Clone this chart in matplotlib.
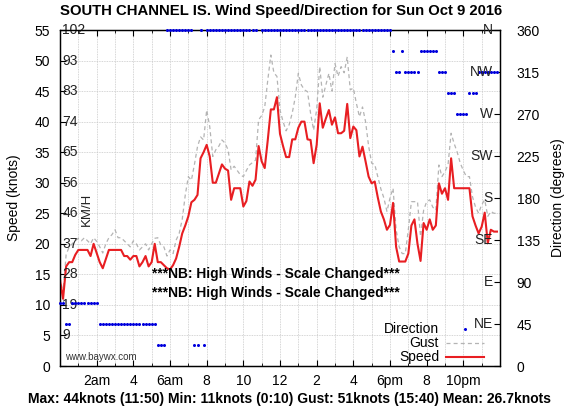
import numpy as np
import matplotlib
matplotlib.use("Agg")
import matplotlib.pyplot as plt
from matplotlib.ticker import MultipleLocator

plt.rcParams['font.family'] = ['Liberation Sans', 'DejaVu Sans']

# ---------------- data (10-minute samples from 0:00) ----------------
speed = [14, 11, 16.3, 17, 17, 18.2, 19, 19, 19, 19, 18, 20, 18.5, 17, 16, 17.5,
         19, 19, 19, 19, 19, 18, 18, 17.4, 18, 18, 16.3, 17, 18, 16.3, 17, 20,
         17, 17, 16.5, 16, 15.8, 16.5, 17.6, 19.5, 21.7, 23, 24.5, 26.8, 27.2, 28,
         34, 35, 36.2, 34.3, 30, 30, 31.5, 33, 32.3, 32, 27.2, 29.1, 29.1, 29.1,
         26.1, 27, 30.2, 29.5, 30.5, 36, 33.5, 32.4, 37, 42, 42, 44, 38, 36, 34.2,
         34.2, 37.1, 37.1, 39, 40, 40, 37.1, 37, 33.2, 36.2, 43, 39, 40.5, 41.9,
         39.5, 40.7, 38.1, 38.1, 38.5, 42.9, 37.3, 39.2, 38.6, 34.3, 35.9, 33.5,
         31, 29.9, 30.2, 27.6, 25.3, 24, 22.3, 23.1, 26.7, 19.5, 17.1, 17.1, 17.1,
         18.4, 23, 24, 20, 17.2, 23.4, 22.3, 24, 22.3, 23, 29.9, 28.2, 29.1, 27.2,
         34, 29.1, 29.1, 29.1, 29.1, 29.1, 29.1, 24.5, 23, 21.7, 22.8, 25.1, 20.1,
         22.3, 22, 22]

gust = [14.5, 12, 18.2, 19.5, 20, 20.5, 20.9, 20.5, 21, 20.5, 20, 21, 20.4, 19.5,
        18.5, 20, 21, 21.5, 22.3, 21, 21, 20.5, 20, 19.5, 20.5, 20, 19, 19.5, 20,
        19, 20, 20.9, 21, 19.8, 19.5, 18, 19, 18.4, 20.6, 21.7, 24, 28, 31, 30.4,
        33, 35.9, 37.5, 37, 41.9, 39.2, 34.3, 35.4, 36, 37, 36.5, 35.4, 32.1, 32.7,
        32, 31.3, 31, 32, 32.9, 33.3, 33.7, 40.3, 41, 42.4, 46.8, 50.9, 48, 47.4,
        41.9, 40, 38.5, 39.5, 41.4, 44, 47.9, 46, 45.2, 44.9, 41.4, 38.6, 42, 49,
        44, 46, 47.9, 45, 49.5, 47.4, 49, 48, 50.6, 45.2, 45.5, 43, 40.8, 42.4, 40,
        36, 33.2, 33, 31, 29, 27.5, 25.3, 27.5, 29.1, 22.3, 19.5, 18.4, 18.4, 22.3,
        26.9, 26.9, 26.9, 21.2, 25.5, 26.9, 27.2, 26, 25.5, 32.9, 31, 31.8, 33,
        38.1, 36.4, 35, 33.2, 32, 31, 31, 27.7, 26, 25, 26.4, 27.2, 24.5, 25.3, 25,
        25]

direction = ([67.5, 67.5, 45, 45] + [67.5] * 9 + [45] * 19 + [22.5] * 3 +
             [360] * 9 + [22.5, 22.5, 360, 22.5] + [360] * 17 + [np.nan] +
             [360] * 43 + [337.5, 315, 315, 337.5] + [315] * 5 + [337.5] * 6 +
             [315] * 3 + [292.5] * 3 + [270] * 4 + [292.5] * 3 + [315] * 7)

hours = np.arange(len(speed)) / 6.0

xtick_pos = [2, 4, 6, 8, 10, 12, 14, 16, 18, 20, 22]
xtick_labels = ['2am', '4', '6am', '8', '10', '12', '2', '4', '6pm', '8', '10pm']
speed_ticks = [0, 5, 10, 15, 20, 25, 30, 35, 40, 45, 50, 55]
kmh_ticks = [5, 10, 15, 20, 25, 30, 35, 40, 45, 50, 55]
kmh_labels = ['9', '19', '28', '37', '46', '56', '65', '74', '83', '93', '102']
dir_ticks = [0, 45, 90, 135, 180, 225, 270, 315, 360]
compass_pos = [45, 90, 135, 180, 225, 270, 315, 360]
compass_labels = ['NE', 'E', 'SE', 'S', 'SW', 'W', 'NW', 'N']

title = 'SOUTH CHANNEL IS. Wind Speed/Direction for Sun Oct 9 2016'
footer = 'Max: 44knots (11:50) Min: 11knots (0:10) Gust: 51knots (15:40) Mean: 26.7knots'
note = '***NB: High Winds - Scale Changed***'

# ---------------- figure ----------------
fig = plt.figure(figsize=(5.81, 4.18), dpi=100)
ax = fig.add_axes([60 / 581, 1 - 366 / 418, 440 / 581, 336 / 418])
ax2 = ax.twinx()

# grid
for y in speed_ticks[1:-1]:
    ax.axhline(y, color='#c8c8c8', lw=0.6, ls=(0, (1, 1)), zorder=0)
for h in range(1, 24):
    ax.axvline(h, color='#c8c8c8', lw=0.6, ls=(0, (1, 1)), zorder=0)

lg, = ax.plot(hours, gust, color='#b4b4b4', lw=0.9, ls=(0, (3.2, 2.5)), label='Gust', zorder=2)
ls_, = ax.plot(hours, speed, color='#e81e22', lw=1.5, label='Speed', zorder=3)
ld, = ax2.plot(hours, direction, ls='none', marker='o', ms=2.2, mew=0,
               color='#0000dd', label='Direction', clip_on=False, zorder=4)

ax.set_xlim(0, 24)
ax2.set_xlim(0, 24)
ax.set_ylim(0, 55)
ax2.set_ylim(0, 360)

# axes ticks
ax.set_xticks(xtick_pos)
ax.set_xticklabels(xtick_labels)
ax.xaxis.set_minor_locator(MultipleLocator(1))
ax.set_yticks(speed_ticks)
ax.tick_params(axis='both', which='major', direction='in', length=4, width=0.8,
               labelsize=10, top=True, right=False)
ax.tick_params(axis='x', which='minor', direction='in', length=2.5, width=0.6, top=True)
ax.tick_params(axis='x', pad=6)
ax.tick_params(axis='y', pad=7)
ax2.set_yticks(dir_ticks)
ax2.tick_params(axis='y', direction='in', length=4, width=0.8, labelsize=10, pad=12)

ax.set_ylabel('Speed (knots)', fontsize=10, labelpad=10)
ax2.set_ylabel('Direction (degrees)', fontsize=10, labelpad=8)

for sp in ax.spines.values():
    sp.set_linewidth(0.9)
for sp in ax2.spines.values():
    sp.set_linewidth(0.9)

# KM/H inner labels
for v, lab in zip(kmh_ticks, kmh_labels):
    ax.text(0.12, v, lab, fontsize=10, ha='left', va='center', color='#222222', zorder=5)
ax.text(1.47, 25.6, 'KM/H', fontsize=9.5, rotation=90, ha='center', va='center', color='#222222')

# compass labels inside right
for v, lab in zip(compass_pos, compass_labels):
    ax2.text(23.6, v, lab, fontsize=10, ha='right', va='center', color='#222222', zorder=5)

# notes
ax.text(5.0, 15.05, note, fontsize=9.9, fontweight='bold', ha='left', va='center')
ax.text(5.0, 12.0, note, fontsize=9.9, fontweight='bold', ha='left', va='center')
ax.text(0.25, 1.5, 'www.baywx.com', fontsize=7, ha='left', va='center', color='#333333')

leg = ax.legend(handles=[ld, lg, ls_], loc='lower right', bbox_to_anchor=(0.98, -0.018),
                frameon=False, markerfirst=False, fontsize=10, labelspacing=0.0,
                handlelength=2.7, handletextpad=0.5, borderaxespad=0.15)

fig.text(281 / 581, 1 - 11 / 418, title, fontsize=10.7, fontweight='bold', ha='center', va='center')
fig.text(290 / 581, 1 - 399 / 418, footer, fontsize=10, fontweight='bold', ha='center', va='center')

fig.savefig('out.png', dpi=100)
